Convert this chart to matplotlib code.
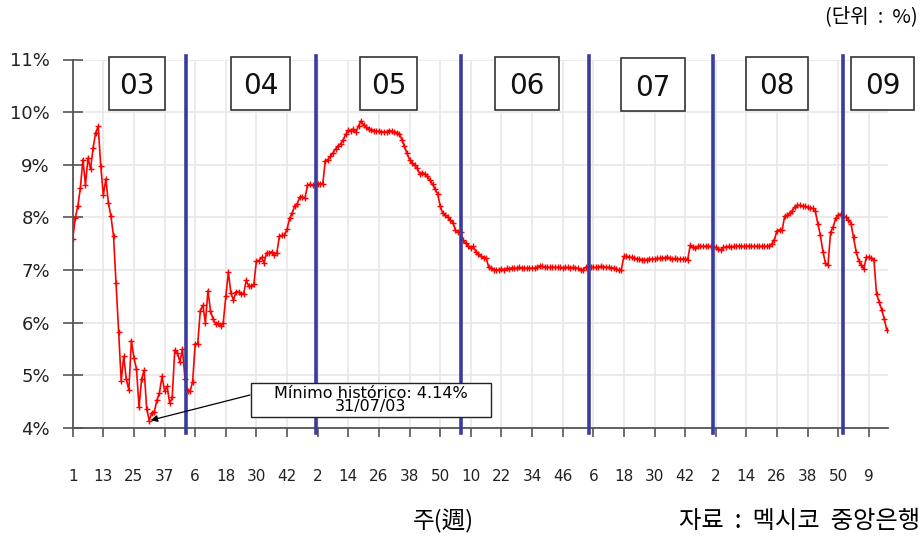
import numpy as np
import matplotlib
matplotlib.use('Agg')
import matplotlib.pyplot as plt
from matplotlib.patches import Rectangle

plt.rcParams['font.family'] = ['DejaVu Sans', 'Noto Sans CJK KR']

# weekly overnight rate (%), one list per year
rates_2003 = [7.59, 7.99, 8.21, 8.56, 9.10, 8.62, 9.13, 8.92, 9.32, 9.61,
              9.73, 8.97, 8.43, 8.73, 8.27, 8.02, 7.64, 6.75, 5.83, 4.90,
              5.36, 4.93, 4.72, 5.66, 5.33, 5.12, 4.39, 4.93, 5.10, 4.36,
              4.14, 4.29, 4.31, 4.53, 4.67, 4.98, 4.71, 4.79, 4.47, 4.58,
              5.48, 5.43, 5.26, 5.50, 4.94]
rates_2004 = [4.71, 4.70, 4.88, 5.60, 5.60, 6.23, 6.33, 6.00, 6.61, 6.23,
              6.07, 5.98, 5.99, 5.94, 6.00, 6.50, 6.96, 6.56, 6.43, 6.59,
              6.59, 6.55, 6.55, 6.81, 6.69, 6.69, 6.73, 7.18, 7.18, 7.24,
              7.14, 7.33, 7.32, 7.35, 7.29, 7.33, 7.64, 7.66, 7.66, 7.78,
              7.98, 8.08, 8.22, 8.26, 8.39, 8.39, 8.36, 8.61, 8.63, 8.61,
              8.61, 8.64]
rates_2005 = [8.64, 8.64, 9.08, 9.10, 9.16, 9.23, 9.30, 9.36, 9.40, 9.47,
              9.58, 9.66, 9.65, 9.68, 9.62, 9.74, 9.83, 9.76, 9.71, 9.68,
              9.67, 9.65, 9.64, 9.64, 9.63, 9.62, 9.63, 9.65, 9.64, 9.62,
              9.61, 9.58, 9.48, 9.35, 9.22, 9.10, 9.04, 8.99, 8.93, 8.83,
              8.85, 8.83, 8.78, 8.71, 8.63, 8.54, 8.45, 8.22, 8.08, 8.05,
              8.00, 7.95, 7.90, 7.76, 7.73, 7.72]
rates_2006 = [7.57, 7.51, 7.46, 7.42, 7.45, 7.35, 7.31, 7.26, 7.23, 7.23,
              7.06, 7.03, 7.01, 7.00, 7.01, 7.02, 7.01, 7.03, 7.02, 7.04,
              7.03, 7.03, 7.05, 7.04, 7.03, 7.04, 7.03, 7.04, 7.03, 7.06,
              7.08, 7.07, 7.06, 7.05, 7.05, 7.06, 7.05, 7.05, 7.05, 7.04,
              7.05, 7.05, 7.04, 7.05, 7.04, 7.03, 7.00, 7.01, 7.05, 7.06]
rates_2007 = [7.06, 7.05, 7.05, 7.06, 7.07, 7.06, 7.05, 7.05, 7.04, 7.04,
              7.02, 7.00, 7.01, 7.26, 7.26, 7.25, 7.24, 7.22, 7.21, 7.21,
              7.20, 7.20, 7.20, 7.21, 7.21, 7.21, 7.22, 7.22, 7.23, 7.23,
              7.25, 7.22, 7.21, 7.22, 7.21, 7.21, 7.21, 7.21, 7.20, 7.47,
              7.44, 7.42, 7.45, 7.45, 7.45, 7.45, 7.45, 7.45]
rates_2008_09 = [7.44, 7.43, 7.40, 7.38, 7.43, 7.44, 7.45, 7.44, 7.45, 7.45,
                 7.46, 7.45, 7.45, 7.45, 7.46, 7.45, 7.45, 7.45, 7.45, 7.45,
                 7.45, 7.45, 7.46, 7.50, 7.58, 7.75, 7.76, 7.76, 8.02, 8.04,
                 8.08, 8.13, 8.20, 8.23, 8.23, 8.22, 8.21, 8.19, 8.18, 8.17,
                 8.12, 7.88, 7.66, 7.35, 7.13, 7.10, 7.72, 7.82, 7.98, 8.05,
                 8.06, 8.03, 8.00, 7.96, 7.88, 7.62, 7.35, 7.18, 7.10, 7.02,
                 7.24, 7.25, 7.22, 7.19, 6.55, 6.40, 6.25, 6.08, 5.86]

week_labels = ['1', '13', '25', '37', '6', '18', '30', '42', '2', '14', '26',
               '38', '50', '10', '22', '34', '46', '6', '18', '30', '42', '2',
               '14', '26', '38', '50', '9']
year_labels = ['03', '04', '05', '06', '07', '08', '09']
year_breaks = [44.4, 95.2, 152.2, 202.3, 250.8, 301.8]
min_week, min_rate = 30, 4.14

rates = np.array(rates_2003 + rates_2004 + rates_2005 + rates_2006 +
                 rates_2007 + rates_2008_09)
weeks = np.arange(len(rates))

W, H = 924, 536
def fx(px):
    return px / W
def fy(py):
    return 1 - py / H

fig = plt.figure(figsize=(W / 100, H / 100), dpi=100)
ax = fig.add_axes([fx(72.7), fy(428), fx(888) - fx(72.7), fy(59.5) - fy(428)])

ax.plot(weeks, rates, color='red', lw=1.2, marker='+', ms=3.8, mew=1.0, zorder=3)

for b in year_breaks:
    ax.axvline(b, ymin=-0.013, ymax=1.01, color='#3b3b9e', lw=2.6,
               clip_on=False, zorder=4)

ax.set_xlim(0, 319.5)
ax.set_ylim(4, 11)
ax.set_yticks(range(4, 12))
ax.set_yticklabels([f'{v}%' for v in range(4, 12)])
ax.set_xticks(range(0, 12 * len(week_labels), 12))
ax.set_xticklabels(week_labels)
ax.grid(True, color='#e8e8e8', lw=1.2)
ax.set_axisbelow(True)
for s in ['top', 'right']:
    ax.spines[s].set_visible(False)
for s in ['left', 'bottom']:
    ax.spines[s].set_color('#555555')
    ax.spines[s].set_linewidth(1.3)
ax.tick_params(axis='y', direction='inout', length=13.7, width=1.2,
               color='#555555', pad=9.5, labelsize=13, labelcolor='#222222')
ax.tick_params(axis='x', direction='out', length=6.5, width=1.2,
               color='#555555', pad=23, labelsize=11, labelcolor='#222222')

# year boxes (figure pixels)
boxes = [(109, 165, 57, 110), (231, 290, 57, 110), (360, 417, 57, 110),
         (495, 559, 57, 110), (621, 685, 58, 111), (746, 808, 57, 110),
         (851, 914, 57, 110)]
for lab, (x0, x1, y0, y1) in zip(year_labels, boxes):
    fig.add_artist(Rectangle((fx(x0), fy(y1)), fx(x1) - fx(x0), fy(y0) - fy(y1),
                             transform=fig.transFigure, fc='white', ec='#333333',
                             lw=1.2, zorder=5))
    fig.text(fx((x0 + x1) / 2), fy((y0 + y1) / 2 + 3), lab, ha='center',
             va='center', fontsize=20, color='#111111', zorder=6)

# minimum annotation
fig.add_artist(Rectangle((fx(250.7), fy(417.3)), fx(491) - fx(250.7),
                         fy(383.3) - fy(417.3), transform=fig.transFigure,
                         fc='white', ec='#222222', lw=1.0, zorder=5))
fig.text(fx(371), fy(400), f'Mínimo histórico: {min_rate:.2f}%\n31/07/03',
         ha='center', va='center', fontsize=11.5, linespacing=0.9, zorder=6)
ax.annotate('', xy=(min_week, min_rate), xytext=(fx(250), fy(395)),
            textcoords='figure fraction',
            arrowprops=dict(arrowstyle='-|>', color='black', lw=0.9,
                            mutation_scale=10, shrinkA=0, shrinkB=1),
            zorder=6)

kr = ['Noto Sans CJK KR', 'DejaVu Sans']
fig.text(fx(443), fy(521), '주(週)', ha='center', va='center', fontsize=17, family=kr)
fig.text(fx(920), fy(521), '자료  :  멕시코  중앙은행', ha='right', va='center',
         fontsize=17.5, family=kr)
fig.text(fx(918), fy(17), '(단위  :  %)', ha='right', va='center', fontsize=14.5,
         family=kr)

fig.savefig('out.png', dpi=100)
